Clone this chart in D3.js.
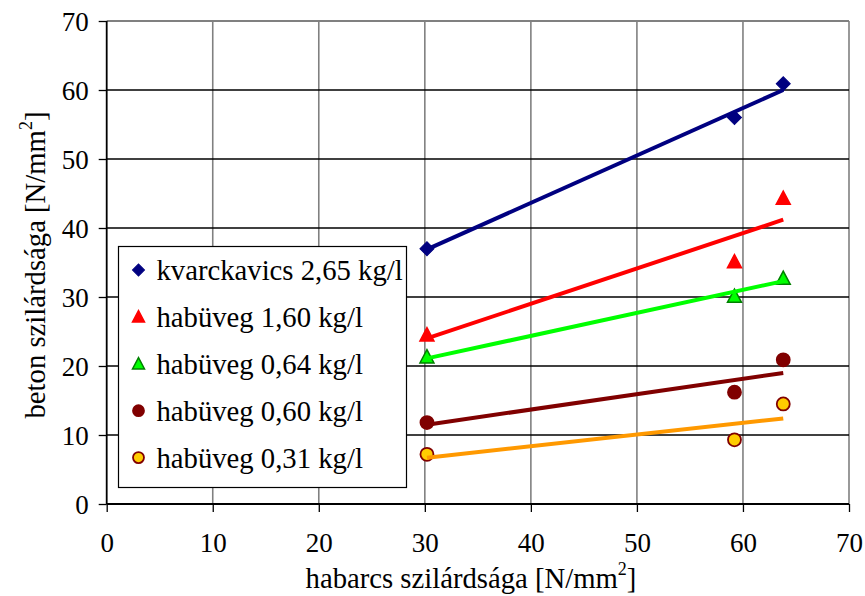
<!DOCTYPE html>
<html>
<head>
<meta charset="utf-8">
<script src="https://cdn.jsdelivr.net/npm/d3@7"></script>
<style>
  html, body { margin: 0; padding: 0; background: #fff; }
  svg { display: block; font-family: "Liberation Serif", "Times New Roman", serif; }
</style>
</head>
<body>
<svg id="chart" width="865" height="596"></svg>
<script>
// ---- data ----
const xVals = [30.2, 59.2, 63.8];
const kvarc265 = [37.0, 56.0, 60.9];
const hab160 = [24.5, 35.1, 44.3];
const hab064 = [21.3, 30.1, 32.7];
const hab060 = [11.8, 16.2, 20.9];
const hab031 = [7.2, 9.3, 14.5];

const trendX = [30.2, 63.8];
const kvarc265Trend = [36.9, 60.0];
const hab160Trend = [24.0, 41.2];
const hab064Trend = [21.1, 32.3];
const hab060Trend = [11.5, 19.0];
const hab031Trend = [6.7, 12.4];

const seriesNames = ["kvarckavics 2,65 kg/l", "habüveg 1,60 kg/l", "habüveg 0,64 kg/l", "habüveg 0,60 kg/l", "habüveg 0,31 kg/l"];
const xTicks = [0, 10, 20, 30, 40, 50, 60, 70];
const yTicks = [0, 10, 20, 30, 40, 50, 60, 70];
const xTitle = "habarcs szilárdsága [N/mm";
const yTitle = "beton szilárdsága [N/mm";

// ---- styles ----
const series = [
  { name: seriesNames[0], y: kvarc265, t: kvarc265Trend, shape: "diamond", fill: "#000080", stroke: "#000080", line: "#000080" },
  { name: seriesNames[1], y: hab160, t: hab160Trend, shape: "triangle", fill: "#ff0000", stroke: "#ff0000", line: "#ff0000" },
  { name: seriesNames[2], y: hab064, t: hab064Trend, shape: "triangle", fill: "#00ff00", stroke: "#008000", line: "#00ff00" },
  { name: seriesNames[3], y: hab060, t: hab060Trend, shape: "circle", fill: "#800000", stroke: "#800000", line: "#800000" },
  { name: seriesNames[4], y: hab031, t: hab031Trend, shape: "circle", fill: "#ffcc00", stroke: "#800000", line: "#ff9900" }
];

const svg = d3.select("#chart");
const L = 106.7, R = 849, T = 21, B = 504;
const x = d3.scaleLinear().domain([0, 70]).range([L, R]);
const y = d3.scaleLinear().domain([0, 70]).range([B, T]);

// gridlines
const g = svg.append("g");
g.selectAll(".vg").data(xTicks.slice(1)).enter().append("line")
  .attr("x1", d => x(d)).attr("x2", d => x(d)).attr("y1", T).attr("y2", B)
  .attr("stroke", "#808080").attr("stroke-width", 1.6);
g.selectAll(".hg").data(yTicks.slice(1, -1)).enter().append("line")
  .attr("x1", L).attr("x2", R).attr("y1", d => y(d)).attr("y2", d => y(d))
  .attr("stroke", "#000").attr("stroke-width", 1.3);
// top border
g.append("line").attr("x1", L).attr("x2", R).attr("y1", T).attr("y2", T)
  .attr("stroke", "#808080").attr("stroke-width", 1.8);

// axes
const xAxis = d3.axisBottom(x).tickValues(xTicks).tickSize(8).tickPadding(21);
const yAxis = d3.axisLeft(y).tickValues(yTicks).tickSize(8).tickPadding(10);
const gx = svg.append("g").attr("transform", `translate(0,${B})`).call(xAxis);
const gy = svg.append("g").attr("transform", `translate(${L},0)`).call(yAxis);
[gx, gy].forEach(a => {
  a.select(".domain").attr("stroke", "#000").attr("stroke-width", 1.8);
  a.selectAll(".tick line").attr("stroke", "#000").attr("stroke-width", 1.3);
  a.selectAll(".tick text").attr("fill", "#000")
    .style("font-family", '"Liberation Serif", serif').style("font-size", "27px");
});
gx.select(".domain").attr("d", `M${L},0H${R}`);
gy.select(".domain").attr("d", `M0,${T}V${B}`);
gx.selectAll(".tick text").attr("dy", "0.71em");
gy.selectAll(".tick text").attr("dy", "0.35em");

// symbols
function drawMarker(sel, shape, cx, cy, s, fill, stroke) {
  if (shape === "diamond") {
    sel.append("path").attr("d", d3.symbol().type(d3.symbolSquare).size(s * s * 0.5)())
      .attr("transform", `translate(${cx},${cy}) rotate(45)`).attr("fill", fill).attr("stroke", stroke).attr("stroke-width", 1);
  } else if (shape === "triangle") {
    const h = s * 0.95, w = s;
    sel.append("path").attr("d", `M${cx},${cy - h * 0.55}L${cx + w / 2},${cy + h * 0.45}L${cx - w / 2},${cy + h * 0.45}Z`)
      .attr("fill", fill).attr("stroke", stroke).attr("stroke-width", 1.5);
  } else {
    sel.append("circle").attr("cx", cx).attr("cy", cy).attr("r", s / 2 - 0.5)
      .attr("fill", fill).attr("stroke", stroke).attr("stroke-width", 1.8);
  }
}

const marks = svg.append("g");
series.forEach(s => {
  xVals.forEach((xv, i) => drawMarker(marks, s.shape, x(xv), y(s.y[i]), 14, s.fill, s.stroke));
});
// trend lines
const lines = svg.append("g");
const lineGen = d3.line().x(d => x(d[0])).y(d => y(d[1]));
series.forEach(s => {
  lines.append("path").attr("d", lineGen(trendX.map((xv, i) => [xv, s.t[i]])))
    .attr("fill", "none").attr("stroke", s.line).attr("stroke-width", 4);
});

// legend
const lg = svg.append("g");
lg.append("rect").attr("x", 118.5).attr("y", 246.5).attr("width", 288).attr("height", 241)
  .attr("fill", "#fff").attr("stroke", "#000").attr("stroke-width", 1.2);
series.forEach((s, i) => {
  const cy = 270 + i * 46.9;
  drawMarker(lg, s.shape, 138.5, cy, 12, s.fill, s.stroke);
  lg.append("text").attr("x", 156.5).attr("y", cy).attr("dy", "0.35em")
    .style("font-size", "28.7px").attr("fill", "#000").text(s.name);
});

// axis titles
const xt = svg.append("text").attr("x", 471).attr("y", 588).attr("text-anchor", "middle")
  .style("font-size", "28.7px").attr("fill", "#000");
xt.append("tspan").text(xTitle);
xt.append("tspan").attr("dy", -13).style("font-size", "18px").text("2");
xt.append("tspan").attr("dy", 13).text("]");

const yt = svg.append("text").attr("transform", "translate(45,265) rotate(-90)").attr("text-anchor", "middle")
  .style("font-size", "28.7px").attr("fill", "#000");
yt.append("tspan").text(yTitle);
yt.append("tspan").attr("dy", -13).style("font-size", "18px").text("2");
yt.append("tspan").attr("dy", 13).text("]");
</script>
</body>
</html>
